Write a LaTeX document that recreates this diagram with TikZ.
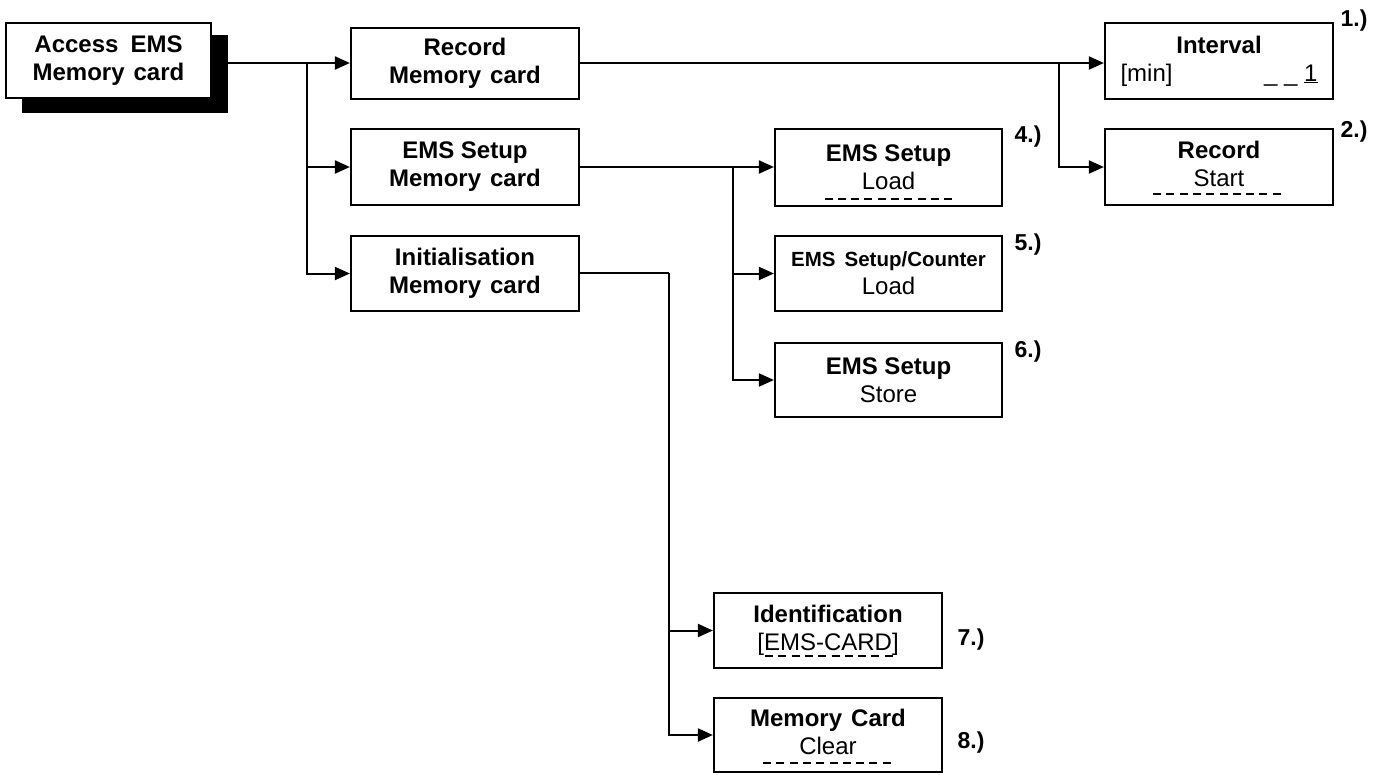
\documentclass[tikz,border=0pt]{standalone}
\usepackage{fontspec}
\setmainfont{Liberation Sans}
\usetikzlibrary{arrows.meta,calc}
\begin{document}
\begin{tikzpicture}[x=1pt,y=-1pt,
  box/.style={draw,line width=2.2pt,fill=white,inner sep=0pt,align=center,
    minimum width=228pt,minimum height=75pt,font=\fontsize{24}{28}\selectfont},
  conn/.style={line width=2pt},
  arr/.style={conn,-{Triangle[length=15pt,width=13pt]}},
  num/.style={font=\fontsize{23}{26}\selectfont\bfseries,inner sep=0pt},
  dashline/.style={line width=1.6pt,dash pattern=on 8pt off 5.3pt}
]
\useasboundingbox (0,0) rectangle (1380,774);

% shadow + access box
\fill[black] (22,35) rectangle (228,113);
\node[box,minimum width=205pt] (acc) at (108.5,60.5)
  {\textbf{Access\hspace{12pt}EMS}\\\textbf{Memory\hspace{9pt}card}};

\node[box,minimum height=71pt] (rec) at (465,63.5)
  {\textbf{Record}\\\textbf{Memory\hspace{9pt}card}};
\node[box,minimum height=76pt] (ems) at (465,167)
  {\textbf{EMS Setup}\\\textbf{Memory\hspace{9pt}card}};
\node[box] (ini) at (465,273.5)
  {\textbf{Initialisation}\\\textbf{Memory\hspace{9pt}card}};

\node[box,minimum height=76pt] (int) at (1219,61)
  {\textbf{Interval}\\\makebox[197pt]{[min]\hfill\_ \_ \underline{1}}};
\node[box,minimum height=76pt,text depth=7pt] (rst) at (1219,167)
  {\textbf{Record}\\Start};

\node[box,minimum width=227pt,minimum height=77pt] (load) at (888.5,167.5)
  {\textbf{EMS Setup}\\Load};
\node[box,minimum width=227pt] (cnt) at (888.5,273.5)
  {{\fontsize{20.5}{24}\selectfont\bfseries EMS\hspace{9pt}Setup/Counter}\\Load};
\node[box,minimum width=227pt,minimum height=74pt] (sto) at (888.5,380)
  {\textbf{EMS Setup}\\Store};

\node[box] (idf) at (828,630.5)
  {\textbf{Identification}\\{}[EMS-CARD]};
\node[box,minimum height=74pt,text depth=7pt] (clr) at (828,735)
  {\textbf{Memory\hspace{9pt}Card}\\Clear};

% dashed marks
\draw[dashline] ($(load.south)+(-64,-8)$) -- ($(load.south)+(64,-8)$);
\draw[dashline] ($(rst.south)+(-66,-12)$) -- ($(rst.south)+(63,-12)$);
\draw[dashline] ($(idf.south)+(-63,-13)$) -- ($(idf.south)+(65,-13)$);
\draw[dashline] ($(clr.south)+(-65,-10)$) -- ($(clr.south)+(64,-10)$);

% numbers
\node[num] (n1) at (1354,21) {1.)};
\node[num] (n2) at (1354,132) {2.)};
\node[num] (n4) at (1028,137) {4.)};
\node[num] (n5) at (1028,245) {5.)};
\node[num] (n6) at (1028,352) {6.)};
\node[num] (n7) at (971,640) {7.)};
\node[num] (n8) at (971,743) {8.)};

% connectors
\coordinate (b1) at (307,63);
\draw[arr] (acc.east |- b1) -- (b1 -| rec.west);
\draw[arr] (b1) |- (ems.west);
\draw[arr] (b1) |- (ini.west);

\coordinate (b2) at (1059,63);
\draw[arr] (rec.east |- b2) -- (b2 -| int.west);
\draw[arr] (b2) |- (rst.west);

\coordinate (b3) at (733,167);
\draw[arr] (ems.east |- b3) -- (b3 -| load.west);
\draw[arr] (b3) |- (cnt.west);
\draw[arr] (b3) |- (sto.west);

\coordinate (b4) at (669,273);
\draw[conn] (ini.east |- b4) -- (b4);
\draw[arr] (b4) |- (idf.west);
\draw[arr] (b4) |- (clr.west);
\end{tikzpicture}
\end{document}
